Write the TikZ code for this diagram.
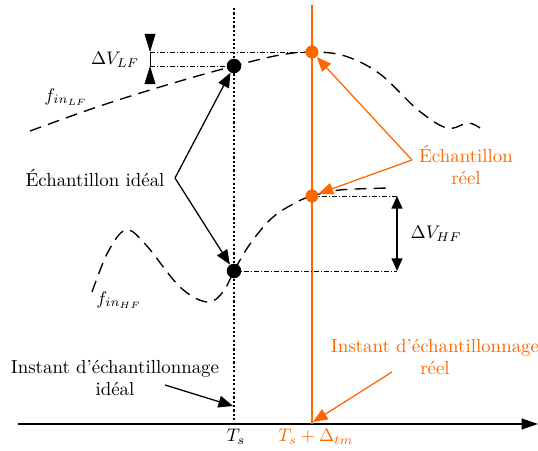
\documentclass[tikz,border=0pt]{standalone}
\usetikzlibrary{arrows.meta}
\definecolor{orng}{RGB}{255,102,0}
\begin{document}
\begin{tikzpicture}[x=0.55pt,y=-0.55pt,font=\fontsize{10.4}{12.5}\selectfont,
  curve/.style={dash pattern=on 6.5pt off 4pt,line width=0.75pt},
  guide/.style={dash pattern=on 3pt off 1pt on 0.5pt off 1pt,line width=0.35pt},
  tip/.style={-{Triangle[length=8pt,width=6.5pt]},line width=0.7pt},
  dot/.style={circle,fill=black,inner sep=0pt,minimum size=8pt},
  odot/.style={circle,fill=orng,inner sep=0pt,minimum size=7.2pt},
  lbl/.style={align=center,inner sep=1pt}]
\useasboundingbox (0,0) rectangle (538,451);

% axis and time lines
\coordinate (axs) at (18,424);
\coordinate (axe) at (538,424);
\draw[line width=0.8pt,-{Triangle[length=9pt,width=6pt]}] (axs) -- (axe);
\coordinate (dt) at (234,8);
\coordinate (db) at (234,424);
\draw[dash pattern=on 1.2pt off 1.2pt,line width=0.8pt] (dt) -- (db);
\coordinate (ot) at (312,5);
\coordinate (ob) at (312,424);
\draw[orng,line width=0.8pt] (ot) -- (ob);
\node (ts) at (236,437) {$T_s$};
\node[orng] (tsd) at (316,437) {$T_s+\Delta_{tm}$};

% curves
\draw[curve] plot[smooth,tension=0.6] coordinates {(30,131) (100,106) (170,84) (234,66) (280,55) (312,52) (345,56) (380,74) (418,110) (447,128) (468,123) (480,128)};
\draw[curve] plot[smooth,tension=0.6] coordinates {(92,292) (108,252) (126,230) (146,245) (180,287) (207,302) (223,292) (234,271) (250,244) (272,218) (295,203) (312,196) (340,190) (390,188)};

% sample positions
\coordinate (pli) at (234,66);
\coordinate (phi) at (234,271);
\coordinate (plr) at (312,52);
\coordinate (phr) at (312,196);

% Delta V LF
\coordinate (la) at (150,52);
\coordinate (lb) at (150,66);
\coordinate (lat) at (150,34);
\coordinate (lbt) at (150,84);
\draw[guide] (la) -- (plr);
\draw[guide] (lb) -- (pli);
\draw[line width=0.4pt] (la) -- (lb);
\draw[-{Triangle[length=10pt,width=6pt]},line width=0.4pt] (lat) -- (la);
\draw[-{Triangle[length=10pt,width=6pt]},line width=0.4pt] (lbt) -- (lb);
\node (dvl) at (115,60) {$\Delta V_{LF}$};

% Delta V HF
\coordinate (ha) at (397,196);
\coordinate (hb) at (397,271);
\draw[guide] (phr) -- (ha);
\draw[guide] (phi) -- (hb);
\draw[{Triangle[length=7pt,width=6pt]}-{Triangle[length=7pt,width=6pt]},line width=1pt] (ha) -- (hb);
\node (dvh) at (436,234) {$\Delta V_{HF}$};

% sample points
\node[dot] (li) at (pli) {};
\node[dot] (hi) at (phi) {};
\node[odot] (lr) at (plr) {};
\node[odot] (hr) at (phr) {};

% function labels
\node (fl) at (66,97) {$f_{in_{LF}}$};
\node (fh) at (119,300) {$f_{in_{HF}}$};

% ideal sample
\node[lbl] (eil) at (95,178) {Échantillon idéal};
\coordinate (ei) at (175,178);
\draw[tip] (ei) -- (li);
\draw[tip] (ei) -- (hi);

% real sample
\node[lbl,orng] (erl) at (466,165) {Échantillon\\réel};
\coordinate (er) at (412,160);
\draw[tip,orng] (er) -- (lr);
\draw[tip,orng] (er) -- (hr);

% sampling instants
\node[lbl] (iil) at (115,378) {Instant d'échantillonnage\\idéal};
\coordinate (iis) at (165,385);
\coordinate (iie) at (233,406);
\draw[tip] (iis) -- (iie);
\node[lbl,orng] (irl) at (435,357) {Instant d'échantillonnage\\réel};
\coordinate (irs) at (392,372);
\coordinate (ire) at (313,422);
\draw[tip,orng] (irs) -- (ire);
\end{tikzpicture}
\end{document}
